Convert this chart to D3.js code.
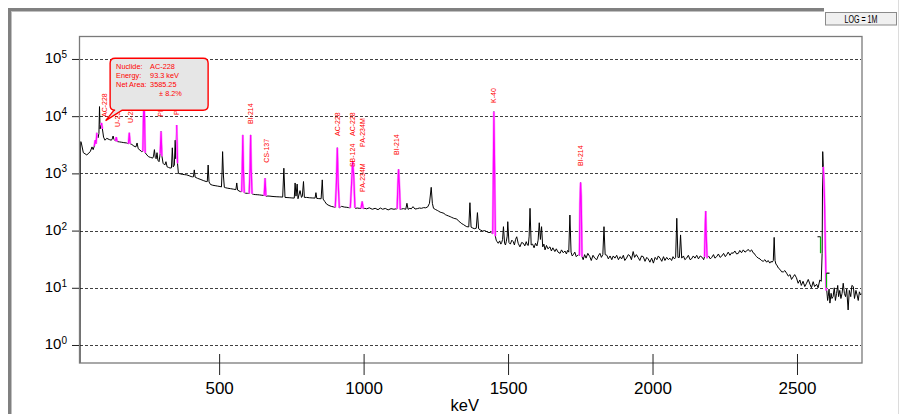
<!DOCTYPE html>
<html><head><meta charset="utf-8">
<script src="https://cdn.jsdelivr.net/npm/d3@7"></script>
<style>
body{margin:0;background:#fff;}
svg{display:block;font-family:Arial,"Liberation Sans",sans-serif;}
</style>
</head><body>
<svg id="c" width="902" height="414"></svg>
<script>
// ---------- DATA ----------
// spectrum: [energy keV, counts]
const spectrum = [
[18.5,0.4],[19.5,3500],[22,3600],[30,2300],[42,2100],[54,2400],[60,2900],[64,2600],[68,3000],[71,3800],[74,3300],[77,5100],[81,4200],[84,5000],[86,14700],[88,6000],[91,7000],[93,7600],[96,6000],[100,4300],[105,3800],[111,4100],[120,3900],[127,3800],[130,4000],[133,4500],[136,3900],[141,3700],[144,4300],[147,3600],[155,3550],[163,3500],[170,3450],[180,3400],[186,3300],[189,5100],[192,3300],[198,3200],[205,3000],[212,2900],[216,3400],[220,2700],[226,2550],[232,2400],[236,2450],[238,9000],[240,19000],[242,9000],[244,2300],[250,2100],[256,1950],[263,1900],[270,1850],[273,2000],[276,2600],[279,1900],[282,1800],[285,2300],[288,1700],[292,1600],[296,2200],[299,5400],[302,2000],[306,1500],[312,1400],[316,1600],[320,1300],[325,1270],[330,1240],[335,1250],[338,2800],[341,1300],[345,1400],[348,3800],[350,1800],[353,7000],[356,1500],[359,1000],[366,980],[374,960],[381,950],[388,940],[396,910],[403,880],[408,870],[411,870],[414,1150],[417,860],[425,820],[434,790],[445,750],[455,720],[459,720],[462,1400],[465,710],[470,640],[478,620],[486,610],[494,600],[503,590],[508,580],[510,1000],[512,2400],[515,900],[518,570],[523,560],[530,550],[540,540],[549,530],[558,520],[561,680],[564,510],[573,480],[578,480],[580,1200],[582,4700],[584,1200],[587,460],[592,450],[598,448],[604,445],[607,1200],[609,4700],[611,1200],[614,440],[619,430],[627,425],[634,423],[640,420],[648,415],[656,410],[659,820],[662,400],[669,402],[676,400],[683,396],[690,393],[700,390],[710,388],[720,385],[724,1230],[728,380],[735,378],[745,375],[752,372],[760,370],[763,680],[766,400],[770,650],[773,360],[780,500],[785,380],[788,400],[792,720],[795,380],[803,380],[812,375],[822,372],[832,370],[835,460],[838,365],[845,362],[853,360],[857,770],[860,355],[866,320],[872,290],[880,275],[888,265],[895,260],[902,255],[906,700],[909,2800],[912,700],[916,250],[924,265],[933,258],[942,255],[948,252],[954,250],[958,600],[962,1600],[966,900],[970,250],[972,245],[978,248],[985,245],[991,245],[995,320],[999,242],[1005,245],[1010,240],[1020,250],[1030,236],[1040,245],[1050,232],[1058,248],[1066,236],[1075,244],[1085,230],[1095,242],[1105,236],[1112,240],[1116,240],[1119,700],[1121,1180],[1124,600],[1127,235],[1130,238],[1138,242],[1146,236],[1150,300],[1154,235],[1160,245],[1165,240],[1171,262],[1178,238],[1186,242],[1193,248],[1200,245],[1208,252],[1215,250],[1222,260],[1228,300],[1234,570],[1238,300],[1242,245],[1248,235],[1255,225],[1260,218],[1265,210],[1271,206],[1278,200],[1283,190],[1288,185],[1294,180],[1300,175],[1305,170],[1311,165],[1316,162],[1322,160],[1328,148],[1334,140],[1340,132],[1345,128],[1351,122],[1357,117],[1364,116],[1368,307],[1372,115],[1376,112],[1383,108],[1390,110],[1394,206],[1398,108],[1405,102],[1412,98],[1419,100],[1426,96],[1434,92],[1440,94],[1443,90],[1447,88],[1449,940],[1451,12000],[1453,1800],[1456,80],[1459,68],[1462,64],[1466,60],[1471,66],[1475,58],[1478,62],[1481,70],[1484,117],[1488,60],[1491,56],[1494,65],[1497,80],[1499,143],[1503,62],[1508,58],[1513,68],[1518,64],[1522,56],[1526,70],[1530,78],[1535,60],[1541,52],[1547,62],[1553,60],[1558,54],[1563,64],[1567,56],[1570,55],[1573,80],[1576,245],[1580,56],[1585,58],[1590,50],[1595,60],[1600,54],[1604,68],[1608,137],[1612,70],[1616,117],[1620,52],[1624,58],[1628,46],[1633,55],[1638,48],[1645,52],[1650,44],[1655,50],[1662,43],[1667,48],[1673,42],[1680,40],[1685,46],[1691,41],[1697,44],[1702,39],[1706,45],[1710,42],[1714,187],[1718,42],[1722,36],[1726,38],[1731,42],[1736,35],[1743,38],[1747,37],[1749,300],[1751,690],[1753,400],[1756,35],[1760,31],[1765,38],[1770,33],[1776,40],[1783,35],[1788,30],[1794,37],[1800,33],[1807,31],[1812,36],[1818,40],[1823,34],[1828,38],[1832,117],[1836,38],[1842,37],[1847,32],[1853,36],[1859,31],[1864,36],[1870,33],[1876,37],[1882,31],[1888,35],[1893,32],[1899,37],[1904,30],[1910,33],[1916,38],[1922,36],[1927,31],[1933,43],[1938,34],[1944,38],[1950,34],[1956,30],[1962,36],[1968,35],[1974,29],[1980,34],[1985,32],[1991,28],[1997,33],[2003,27],[2009,34],[2015,31],[2020,36],[2026,33],[2032,29],[2038,35],[2043,30],[2049,34],[2055,31],[2060,33],[2066,30],[2071,35],[2076,32],[2080,34],[2084,164],[2088,34],[2093,34],[2097,84],[2101,33],[2107,36],[2112,31],[2118,33],[2124,37],[2130,31],[2135,32],[2141,36],[2147,33],[2153,37],[2159,32],[2165,36],[2172,34],[2177,31],[2180,35],[2182,100],[2184,220],[2186,80],[2189,33],[2194,36],[2200,32],[2205,34],[2211,38],[2216,33],[2222,35],[2228,39],[2234,34],[2240,36],[2246,40],[2252,35],[2257,38],[2262,42],[2268,37],[2274,41],[2279,40],[2285,44],[2291,39],[2297,40],[2302,45],[2308,41],[2314,46],[2320,42],[2326,44],[2331,47],[2337,43],[2343,46],[2348,41],[2352,40],[2356,37],[2360,35],[2366,33],[2372,32],[2377,30],[2383,29],[2389,31],[2395,28],[2400,30],[2406,27],[2410,29],[2414,28],[2418,30],[2421,76],[2424,30],[2427,26],[2430,25],[2436,22],[2441,21],[2447,19],[2453,19],[2458,20],[2464,18],[2470,16],[2476,17],[2481,14],[2487,15.6],[2492,17],[2498,15],[2504,12],[2510,13.7],[2515,11],[2521,13],[2527,10.5],[2533,12],[2539,14],[2545,11.5],[2550,10],[2556,12.8],[2561,10.5],[2568,11.5],[2573,10],[2579,13.7],[2584,13],[2587,40],[2589,2400],[2591,1300],[2593,800],[2595,370],[2598,60],[2601,9],[2603,9],[2606,6],[2608,7],[2611,9.5],[2614,5.4],[2618,8],[2621,6.5],[2625,7],[2629,10],[2633,6],[2637,8],[2641,11],[2644,7],[2648,9],[2652,6.5],[2656,8],[2660,12],[2664,8],[2668,7],[2672,9.5],[2677,4.1],[2681,9],[2686,7],[2690,11],[2695,10.5],[2699,6.5],[2704,9],[2708,7.5],[2712,6],[2716,8.5],[2720,7.5],[2725,8]
];
// identified-peak regions (keV start, keV end) drawn in magenta
const roiStart = [68, 89, 141, 186, 234, 294, 351, 577, 603, 655, 901, 953, 990, 1115, 1446, 1746, 2179, 2590];
const roiEnd   = [78, 98, 147, 193, 246, 304, 357, 588, 615, 663, 917, 971, 1000, 1128, 1457, 1757, 2190, 2602];
// nuclide labels
const labelText   = ["AC-228","U-235","U-235","PB-212","PB-214","PB-214","BI-214","CS-137","AC-228","SB-124","AC-228","PA-234M","PA-234M","BI-214","K-40","BI-214"];
const labelKeV    = [104, 148, 192, 240, 296, 351, 610, 665, 909, 962, 962, 995, 995, 1115, 1451, 1750];
const labelCounts = [9680, 6470, 7600, 23500, 9800, 10500, 7300, 1540, 4500, 1290, 4500, 473, 2900, 2100, 17000, 1345];
// ROI edge markers near 2614 keV
const markerKeV  = [2578, 2599];
const markerLow  = [40, 10];
const markerHigh = [78, 18];
const markerSide = [-1, 1];
// axes
const xTicks = [500, 1000, 1500, 2000, 2500];
const yTicks = [1, 10, 100, 1000, 10000, 100000];
const yExp   = ["0","1","2","3","4","5"];
const xTitle = "keV";
const scaleLabel = "LOG = 1M";
// tooltip
const tipLines = [["Nuclide:","AC-228"],["Energy:","93.3 keV"],["Net Area:","3585.25"],["","\u00b1 8.2%"]];
const tipKeV = 93.3, tipCounts = 8340;

// ---------- DRAW ----------
const svg = d3.select("#c");
const P = {left:79, right:862, top:36.5, bottom:363};
const x = d3.scaleLinear().domain([15, 2725]).range([P.left, P.right]);
const y = d3.scaleLog().domain([0.4845, 247000]).range([P.bottom, P.top]);

svg.append("rect").attr("width",902).attr("height",414).attr("fill","#fff");

// window frame
svg.append("rect").attr("x",8).attr("y",8).attr("width",3).attr("height",406).attr("fill","#808080");
svg.append("rect").attr("x",8).attr("y",8).attr("width",816).attr("height",3).attr("fill","#808080");
svg.append("line").attr("x1",11.5).attr("x2",11.5).attr("y1",11).attr("y2",414).attr("stroke","#c0c0c0");
svg.append("line").attr("x1",11).attr("x2",824).attr("y1",11.5).attr("y2",11.5).attr("stroke","#c0c0c0");
svg.append("line").attr("x1",898.5).attr("x2",898.5).attr("y1",0).attr("y2",414).attr("stroke","#dcdcdc");

// LOG box
svg.append("rect").attr("x",825.5).attr("y",12.5).attr("width",71).attr("height",12.5)
  .attr("fill","#f0f0f0").attr("stroke","#8a8a8a");
svg.append("text").attr("x",861).attr("y",22.5).attr("text-anchor","middle")
  .attr("font-size",10.5).attr("textLength",33).attr("lengthAdjust","spacingAndGlyphs")
  .attr("fill","#000").text(scaleLabel);

// gridlines
svg.append("g").selectAll("line").data(yTicks).join("line")
  .attr("x1",P.left+1).attr("x2",P.right-1)
  .attr("y1",d=>Math.round(y(d))+0.5).attr("y2",d=>Math.round(y(d))+0.5)
  .attr("stroke","#404040").attr("stroke-dasharray","3,2").attr("stroke-width",1);

// clip
svg.append("clipPath").attr("id","pc").append("rect")
  .attr("x",P.left).attr("y",P.top).attr("width",P.right-P.left).attr("height",P.bottom-P.top);

const line = d3.line().x(d=>x(d[0])).y(d=>y(Math.max(d[1],0.3)));
const gS = svg.append("g").attr("clip-path","url(#pc)");
gS.append("path").datum(spectrum).attr("d",line).attr("fill","none")
  .attr("stroke","#000").attr("stroke-width",1).attr("stroke-linejoin","round");

// ROIs
roiStart.forEach((a,i)=>{
  const pts = spectrum.filter(d=>d[0]>=a && d[0]<=roiEnd[i]);
  gS.append("path").datum(pts).attr("d",line).attr("fill","none")
    .attr("stroke","#ffa0ff").attr("stroke-width",2.4);
  gS.append("path").datum(pts).attr("d",line).attr("fill","none")
    .attr("stroke","#ff00ff").attr("stroke-width",1.2);
});

// ROI markers
markerKeV.forEach((k,i)=>{
  const xx = Math.round(x(k))+0.5;
  gS.append("line").attr("x1",xx).attr("x2",xx).attr("y1",y(markerLow[i])).attr("y2",y(markerHigh[i]))
    .attr("stroke","#00c000").attr("stroke-width",1.2);
  gS.append("line").attr("x1",xx).attr("x2",xx+3*markerSide[i]).attr("y1",y(markerHigh[i])).attr("y2",y(markerHigh[i]))
    .attr("stroke","#000").attr("stroke-width",1.2);
});

// plot border
svg.append("rect").attr("x",P.left+0.5).attr("y",P.top).attr("width",P.right-P.left-0.5).attr("height",P.bottom-P.top)
  .attr("fill","none").attr("stroke","#7a7a7a").attr("stroke-width",1.3);

// x axis
const gx = svg.append("g").attr("transform",`translate(0,354)`)
  .call(d3.axisBottom(x).tickValues(xTicks).tickSize(21).tickPadding(7).tickFormat(d3.format("d")));
gx.select(".domain").remove();
gx.selectAll(".tick line").attr("stroke","#222");
gx.selectAll("text").attr("font-size",17).attr("font-family","Arial, 'Liberation Sans', sans-serif").attr("fill","#000");
svg.append("text").attr("x",x(1350)).attr("y",410.5).attr("text-anchor","middle")
  .attr("font-size",16.5).attr("fill","#000").text(xTitle);

// y axis
const gy = svg.append("g").attr("transform",`translate(${P.left},0)`)
  .call(d3.axisLeft(y).tickValues(yTicks).tickSize(7).tickFormat(""));
gy.select(".domain").remove();
gy.selectAll(".tick line").attr("stroke","#222");
const yl = svg.append("g").selectAll("text").data(yTicks).join("text")
  .attr("x",67).attr("y",d=>y(d)+4.5).attr("text-anchor","end").attr("fill","#000");
yl.append("tspan").attr("font-size",15).text("10");
yl.append("tspan").attr("font-size",10).attr("dy",-5.5).text((d,i)=>yExp[i]);

// nuclide labels
svg.append("g").selectAll("text").data(labelText).join("text")
  .attr("transform",(d,i)=>`translate(${x(labelKeV[i])+2.5},${y(labelCounts[i])}) rotate(-90)`)
  .attr("font-size",7).attr("fill","#ff0000").text(d=>d);

// tooltip
const tx = x(tipKeV)+4, ty = y(tipCounts);
const L = tx+4.5, T = ty-62.5, R = L+98, B = ty-10.5, r = 5;
const pth = `M${L+r},${T} H${R-r} Q${R},${T} ${R},${T+r} V${B-r} Q${R},${B} ${R-r},${B} H${L+12} L${tx},${ty} L${L+4},${B} H${L+r} Q${L},${B} ${L},${B-r} V${T+r} Q${L},${T} ${L+r},${T} Z`;
svg.append("path").attr("d",pth).attr("fill","#e6e6e6").attr("stroke","#ff0000").attr("stroke-width",1.4);
const gt = svg.append("g").attr("font-size",7.3).attr("fill","#ff0000");
tipLines.forEach((l,i)=>{
  gt.append("text").attr("x",L+6).attr("y",T+10.5+i*9).text(l[0]);
  gt.append("text").attr("x",l[0]?L+40:L+49).attr("y",T+10.5+i*9).text(l[1]);
});
</script>
</body></html>
